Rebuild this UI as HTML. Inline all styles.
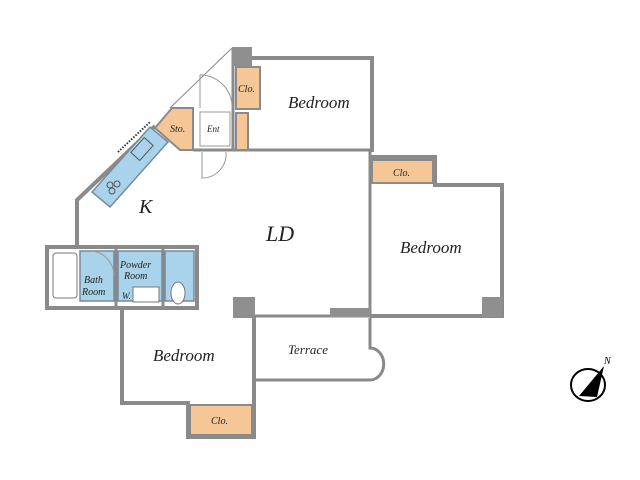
<!DOCTYPE html>
<html><head><meta charset="utf-8"><style>
html,body{margin:0;padding:0;background:#fff;width:640px;height:480px;overflow:hidden}
svg{display:block}
text{font-family:"Liberation Serif",serif;font-style:italic;fill:#222}
</style></head><body>
<svg width="640" height="480" viewBox="0 0 640 480">
<g fill="none" stroke="#8a8a8a" stroke-width="4" stroke-linejoin="miter">
<polyline points="252,58 372,58 372,152"/>
<line x1="252" y1="150" x2="372" y2="150" stroke-width="3"/>
<line x1="370" y1="150" x2="370" y2="316" stroke-width="3"/>
<polyline points="370,157 435,157 435,185 502,185 502,316 370,316"/>
<line x1="244" y1="316" x2="372" y2="316" stroke-width="3"/>
<polyline points="197,308 122,308 122,403 188,403 188,437 254,437 254,316"/>
<polyline points="255,380 365,380" stroke-width="3"/>
<path d="M370,318 L370,348 A12,14 0 0 1 370,380 L365,380" stroke-width="3"/>
<rect x="47" y="247" width="150" height="61"/>
<line x1="116" y1="249" x2="116" y2="306" stroke-width="3"/>
<line x1="163" y1="249" x2="163" y2="306" stroke-width="3"/>
<polyline points="77,247 77,200 155,126"/>
<line x1="193" y1="150" x2="252" y2="150" stroke-width="3"/>
<line x1="233" y1="48" x2="233" y2="150" stroke-width="3"/>
</g>
<line x1="170" y1="108" x2="232" y2="48" stroke="#888" stroke-width="1"/>
<g fill="#8f8f8f">
<rect x="232" y="47" width="20" height="19"/>
<rect x="233" y="297" width="22" height="21"/>
<rect x="330" y="308" width="40" height="9"/>
<rect x="482" y="297" width="20" height="20"/>
</g>
<g fill="#f5c797" stroke="#8a8a8a" stroke-width="2">
<rect x="236" y="67" width="24" height="42"/>
<rect x="236" y="113" width="12" height="37"/>
<rect x="372" y="160" width="61" height="23"/>
<rect x="190" y="405" width="62" height="30"/>
<polygon points="155,128 172,108 193,108 193,150 180,150"/>
</g>
<g fill="#a8d3ea" stroke="#7a8a95" stroke-width="1.5">
<polygon points="92,192 110,207 168,142 150,127"/>
<rect x="80" y="251" width="34" height="50"/>
<rect x="118" y="251" width="44" height="50"/>
<rect x="165" y="251" width="29" height="50"/>
</g>
<g fill="none" stroke="#555" stroke-width="1">
<rect x="132" y="143" width="20" height="12" transform="rotate(-48 142 149)"/>
<circle cx="110" cy="185" r="3"/><circle cx="117" cy="184" r="3"/><circle cx="112" cy="191" r="3"/>
</g>
<line x1="118" y1="152" x2="150" y2="122" stroke="#333" stroke-width="2" stroke-dasharray="1.5,1.5"/>
<rect x="53" y="253" width="24" height="45" rx="3" fill="#fff" stroke="#777"/>
<rect x="133" y="287" width="26" height="15" fill="#fff" stroke="#777"/>
<ellipse cx="178" cy="293" rx="7" ry="11" fill="#fff" stroke="#777"/>
<rect x="200" y="112" width="30" height="34" fill="#fff" stroke="#999"/>
<g fill="none" stroke="#999" stroke-width="1">
<path d="M200,108 L200,75 A32,32 0 0 1 232,108"/>
<path d="M202,152 L202,178 A24,24 0 0 0 226,152"/>
<path d="M92,251 A25,25 0 0 1 114,276"/>
</g>
<text x="288" y="108" font-size="17">Bedroom</text>
<text x="400" y="253" font-size="17">Bedroom</text>
<text x="153" y="361" font-size="17">Bedroom</text>
<text x="266" y="241" font-size="22">LD</text>
<text x="139" y="213" font-size="20">K</text>
<text x="288" y="354" font-size="13">Terrace</text>
<text x="238" y="92" font-size="10">Clo.</text>
<text x="393" y="176" font-size="10">Clo.</text>
<text x="211" y="424" font-size="10">Clo.</text>
<text x="170" y="132" font-size="10">Sto.</text>
<text x="207" y="132" font-size="9">Ent</text>
<text x="84" y="283" font-size="10">Bath</text>
<text x="82" y="295" font-size="10">Room</text>
<text x="120" y="268" font-size="10">Powder</text>
<text x="124" y="279" font-size="10">Room</text>
<text x="122" y="299" font-size="9">W.</text>
<ellipse cx="588" cy="385" rx="17" ry="16" fill="none" stroke="#000" stroke-width="2"/>
<polygon points="604,366 579,396 597,397" fill="#000"/>
<text x="604" y="364" font-size="10" style="fill:#000">N</text>
</svg>
</body></html>
